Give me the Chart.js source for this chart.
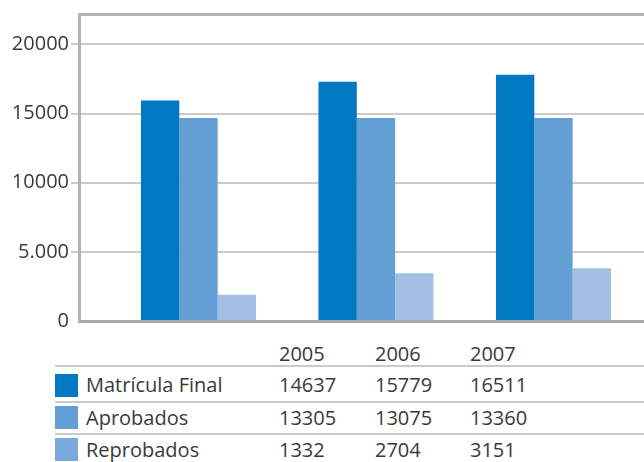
<!DOCTYPE html>
<html lang="es">
<head>
<meta charset="utf-8">
<title>Matrícula</title>
<script src="https://cdn.jsdelivr.net/npm/chart.js@4/dist/chart.umd.min.js"></script>
<style>
    body { margin: 0; background: #fff; }
    #page { position: relative; width: 644px; height: 462px; overflow: hidden; font-family: "Open Sans", "Noto Sans", sans-serif; color: #3a3a3a; }
    #chartBox { position: absolute; left: 0; top: 0; width: 644px; height: 335px; }
    .cell { position: absolute; font-size: 20px; line-height: 20px; white-space: nowrap; }
    .rule { position: absolute; width: 589px; height: 2px; background: #cacaca; }
    .swatch { position: absolute; width: 23px; height: 23px; }
</style>
</head>
<body>
<div id="page">
    <div id="chartBox"><canvas id="schoolChart" width="644" height="335"></canvas></div>
    <div id="dataTable"></div>
</div>
<script>
// years and series
const categories = ['2005', '2006', '2007'];
const seriesNames = ['Matrícula Final', 'Aprobados', 'Reprobados'];

// bar heights as drawn in the picture
const matriculaBars = [15950, 17300, 17800];
const aprobadosBars = [14680, 14680, 14680];
const reprobadosBars = [1900, 3450, 3820];

// numbers printed in the table under the chart
const matriculaTable = ['14637', '15779', '16511'];
const aprobadosTable = ['13305', '13075', '13360'];
const reprobadosTable = ['1332', '2704', '3151'];

// y axis
const yTickValues = [0, 5000, 10000, 15000, 20000];
const yTickLabels = ['0', '5.000', '10000', '15000', '20000'];
const yMax = 22200;

(function () {
    const barColors = ['#0079c2', '#639fd5', '#a3c0e4'];
    const swatchColors = ['#0079c2', '#639fd5', '#7aaadb'];
    const axisColor = '#b3b3b3';

    function toPoints(values) {
        return values.map(function (v, i) { return { x: i, y: v }; });
    }

    function addCell(parent, cls, text, left, top) {
        const el = document.createElement('div');
        el.className = cls;
        el.textContent = text;
        el.style.left = left + 'px';
        el.style.top = top + 'px';
        parent.appendChild(el);
        return el;
    }

    function buildTable() {
        const box = document.getElementById('dataTable');
        const colLeft = [279, 375, 470];
        const rows = [matriculaTable, aprobadosTable, reprobadosTable];
        const baselines = [393, 426, 458];
        const rules = [365, 401, 433];
        const swatchTops = [374, 406, 438];

        categories.forEach(function (year, i) {
            addCell(box, 'cell', year, colLeft[i], 362 - 18);
        });
        rules.forEach(function (y) {
            addCell(box, 'rule', '', 55, y);
        });
        rows.forEach(function (row, r) {
            const sw = addCell(box, 'swatch', '', 55, swatchTops[r]);
            sw.style.background = swatchColors[r];
            addCell(box, 'cell', seriesNames[r], 86, baselines[r] - 18);
            row.forEach(function (val, c) {
                addCell(box, 'cell', val, colLeft[c], baselines[r] - 18);
            });
        });
    }

    function buildChart() {
        const ctx = document.getElementById('schoolChart');
        const barSets = [matriculaBars, aprobadosBars, reprobadosBars];
        new Chart(ctx, {
            type: 'bar',
            data: {
                datasets: barSets.map(function (values, i) {
                    return {
                        label: seriesNames[i],
                        data: toPoints(values),
                        backgroundColor: barColors[i],
                        borderWidth: 0,
                        categoryPercentage: 0.648,
                        barPercentage: 1,
                    };
                })
            },
            options: {
                responsive: false,
                animation: false,
                devicePixelRatio: 1,
                layout: { padding: { left: 0, top: 13, right: 0, bottom: 11.5 } },
                plugins: { legend: { display: false }, tooltip: { enabled: false } },
                scales: {
                    x: {
                        type: 'linear',
                        position: 'bottom',
                        offset: false,
                        min: -0.673,
                        max: 2.51,
                        afterBuildTicks: function (scale) {
                            scale.ticks = categories.map(function (c, i) { return { value: i }; });
                        },
                        ticks: { display: false },
                        grid: { display: false, drawTicks: false, offset: false },
                        border: { display: true, color: '#a9a9a9', width: 3 }
                    },
                    xTop: {
                        type: 'linear',
                        position: 'top',
                        offset: false,
                        min: 0,
                        max: 1,
                        ticks: { display: false },
                        grid: { display: false, drawTicks: false },
                        border: { display: true, color: axisColor, width: 3 }
                    },
                    y: {
                        min: 0,
                        max: yMax,
                        afterBuildTicks: function (scale) {
                            scale.ticks = yTickValues.map(function (v) { return { value: v }; });
                        },
                        afterFit: function (scale) { scale.width = 79; },
                        ticks: {
                            padding: 2,
                            color: '#3a3a3a',
                            font: { family: '"Open Sans", "Noto Sans", sans-serif', size: 20 },
                            callback: function (value) {
                                const idx = yTickValues.indexOf(value);
                                return idx >= 0 ? yTickLabels[idx] : '';
                            }
                        },
                        grid: {
                            color: function (c) { return c.tick && c.tick.value === 0 ? 'rgba(0,0,0,0)' : '#cbcbcb'; },
                            lineWidth: 2,
                            tickLength: 8
                        },
                        border: { display: true, color: axisColor, width: 3 }
                    }
                }
            }
        });
    }

    function init() {
        if (typeof Chart === 'undefined') return;
        buildTable();
        buildChart();
    }

    document.addEventListener('DOMContentLoaded', init);
})();
</script>
</body>
</html>
